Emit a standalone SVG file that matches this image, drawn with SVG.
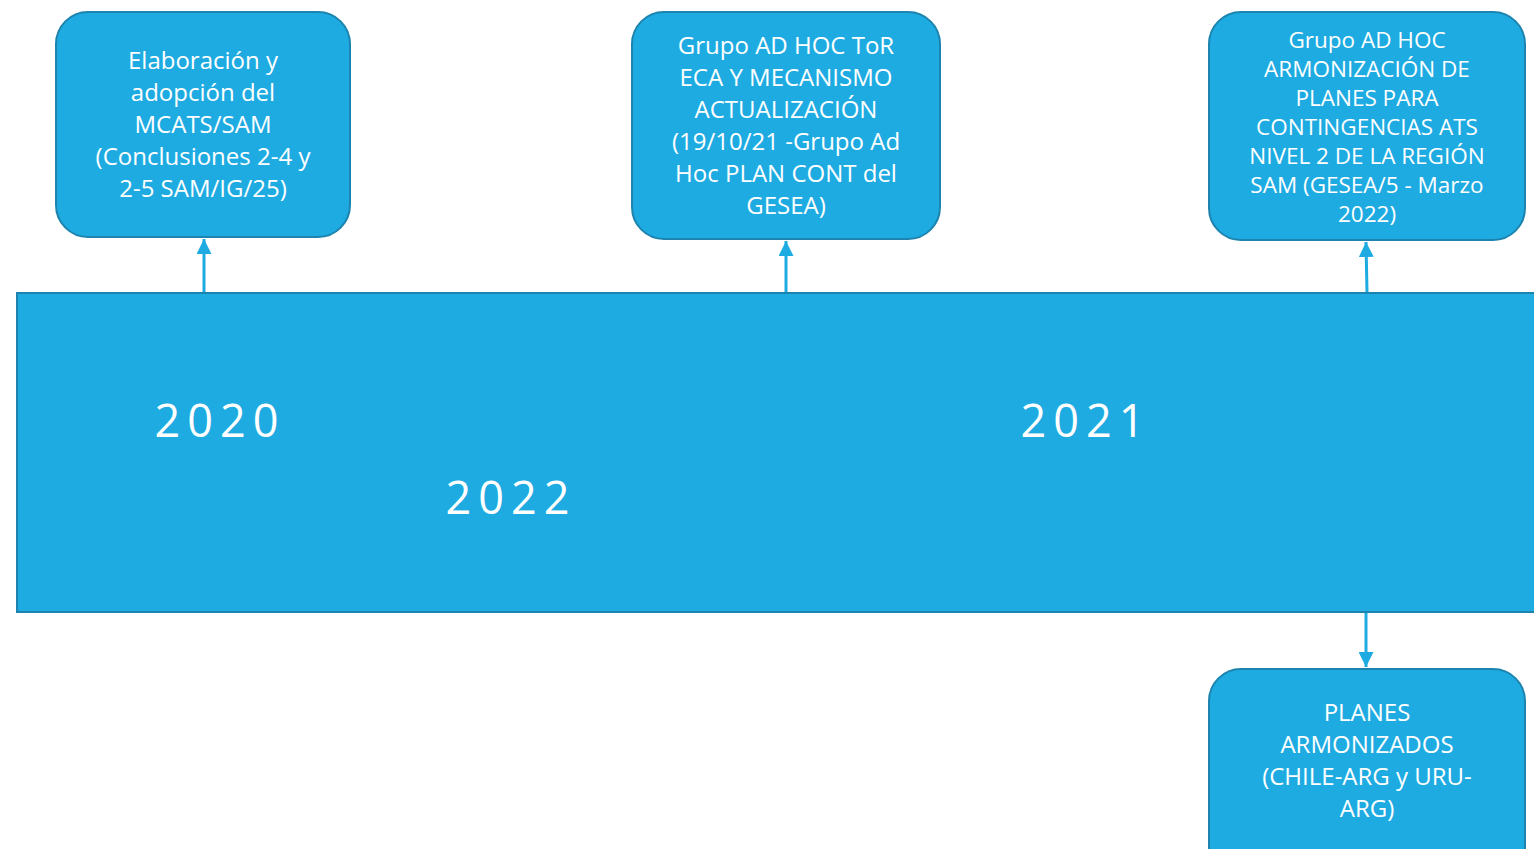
<svg xmlns="http://www.w3.org/2000/svg" width="1534" height="849" viewBox="0 0 1534 849">
<style>
.box{fill:#1EABE2;stroke:#1C84AE;stroke-width:2}
.t{fill:#FFFFFF;font-family:"Open Sans","Noto Sans",sans-serif;text-anchor:middle}
.t1{font-size:24px}
.t3{font-size:22.5px}
.yr{fill:#FFFFFF;font-family:"Open Sans","Noto Sans",sans-serif;font-size:45px;letter-spacing:7px;text-anchor:middle}
.c{stroke:#1EABE2;stroke-width:3;fill:none}
</style>
<defs>
<marker id="ah" viewBox="0 0 10 10" refX="10" refY="5" markerWidth="5" markerHeight="5" orient="auto" markerUnits="strokeWidth">
<path d="M0,0 L10,5 L0,10 z" fill="#1EABE2"/>
</marker>
</defs>
<rect width="1534" height="849" fill="#FFFFFF"/>
<g id="timeline">
<rect class="box" x="17" y="293" width="1530" height="319"/>
<text class="yr" x="220" y="437">2020</text>
<text class="yr" x="1086" y="437">2021</text>
<text class="yr" x="511" y="514">2022</text>
</g>
<g id="connectors">
<line class="c" x1="204" y1="292" x2="204" y2="239" marker-end="url(#ah)"/>
<line class="c" x1="786" y1="292" x2="786" y2="241" marker-end="url(#ah)"/>
<line class="c" x1="1367" y1="292" x2="1366" y2="242" marker-end="url(#ah)"/>
<line class="c" x1="1366" y1="613" x2="1366" y2="667" marker-end="url(#ah)"/>
</g>
<g id="n1">
<rect class="box" x="56" y="12" width="294" height="225" rx="32"/>
<text class="t t1" x="203" y="69">Elaboración y</text>
<text class="t t1" x="203" y="101">adopción del</text>
<text class="t t1" x="203" y="133">MCATS/SAM</text>
<text class="t t1" x="203" y="165">(Conclusiones 2-4 y</text>
<text class="t t1" x="203" y="197">2-5 SAM/IG/25)</text>
</g>
<g id="n2">
<rect class="box" x="632" y="12" width="308" height="227" rx="32"/>
<text class="t t1" x="786" y="54">Grupo AD HOC ToR</text>
<text class="t t1" x="786" y="86">ECA Y MECANISMO</text>
<text class="t t1" x="786" y="118">ACTUALIZACIÓN</text>
<text class="t t1" x="786" y="150">(19/10/21 -Grupo Ad</text>
<text class="t t1" x="786" y="182">Hoc PLAN CONT del</text>
<text class="t t1" x="786" y="214">GESEA)</text>
</g>
<g id="n3">
<rect class="box" x="1209" y="12" width="316" height="228" rx="32"/>
<text class="t t3" x="1367" y="48">Grupo AD HOC</text>
<text class="t t3" x="1367" y="77">ARMONIZACIÓN DE</text>
<text class="t t3" x="1367" y="106">PLANES PARA</text>
<text class="t t3" x="1367" y="135">CONTINGENCIAS ATS</text>
<text class="t t3" x="1367" y="164">NIVEL 2 DE LA REGIÓN</text>
<text class="t t3" x="1367" y="193">SAM (GESEA/5 -  Marzo</text>
<text class="t t3" x="1367" y="222">2022)</text>
</g>
<g id="n4">
<rect class="box" x="1209" y="669" width="316" height="210" rx="32"/>
<text class="t t1" x="1367" y="721">PLANES</text>
<text class="t t1" x="1367" y="753">ARMONIZADOS</text>
<text class="t t1" x="1367" y="785">(CHILE-ARG y URU-</text>
<text class="t t1" x="1367" y="817">ARG)</text>
</g>
</svg>
